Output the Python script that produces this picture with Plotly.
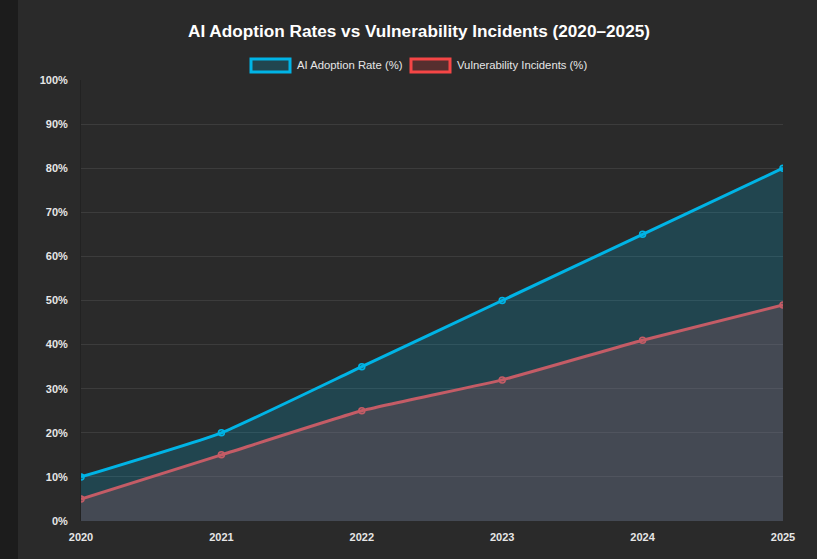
import plotly.graph_objects as go

# Chart data
years = [2020, 2021, 2022, 2023, 2024, 2025]
year_labels = ["2020", "2021", "2022", "2023", "2024", "2025"]
ai_adoption = [10, 20, 35, 50, 65, 80]
vuln_incidents = [5, 15, 25, 32, 41, 49]

blue = "rgb(0,180,230)"
red = "rgb(245,70,70)"

fig = go.Figure()

# red first so the blue fill sits on top (like chart.js dataset order)
fig.add_trace(go.Scatter(
    x=years, y=vuln_incidents, name="Vulnerability Incidents (%)",
    mode="lines+markers", fill="tozeroy", fillcolor="rgba(245,70,70,0.22)",
    line=dict(color=red, width=3, shape="spline", smoothing=0.4),
    marker=dict(size=6, color="rgba(245,70,70,0.3)", line=dict(color=red, width=1.5)),
))
fig.add_trace(go.Scatter(
    x=years, y=ai_adoption, name="AI Adoption Rate (%)",
    mode="lines+markers", fill="tozeroy", fillcolor="rgba(0,180,230,0.2)",
    line=dict(color=blue, width=3, shape="spline", smoothing=0.4),
    marker=dict(size=6, color="rgba(0,180,230,0.3)", line=dict(color=blue, width=1.5)),
))

W, H = 817, 559
ml, mr, mt, mb = 81, 34, 80, 38
pw, ph = W - ml - mr, H - mt - mb

def px(x):
    return (x - ml) / pw

def py(y):
    return (H - mb - y) / ph

shapes = [
    # dark strip on the left edge of the page
    dict(type="rect", xref="paper", yref="paper", x0=px(0), x1=px(18), y0=py(H), y1=py(0),
         fillcolor="#1c1c1c", line=dict(width=0), layer="below"),
    # legend boxes
    dict(type="rect", xref="paper", yref="paper", x0=px(251), x1=px(290), y0=py(72), y1=py(59),
         fillcolor="rgba(0,180,230,0.2)", line=dict(color=blue, width=3)),
    dict(type="rect", xref="paper", yref="paper", x0=px(411), x1=px(450), y0=py(72), y1=py(59),
         fillcolor="rgba(245,70,70,0.22)", line=dict(color=red, width=3)),
]

annotations = [
    dict(text="AI Adoption Rate (%)", xref="paper", yref="paper", x=px(295), y=py(65.5),
         xanchor="left", yanchor="middle", showarrow=False,
         font=dict(size=11.3, color="#e6e6e6")),
    dict(text="Vulnerability Incidents (%)", xref="paper", yref="paper", x=px(455), y=py(65.5),
         xanchor="left", yanchor="middle", showarrow=False,
         font=dict(size=11.3, color="#e6e6e6")),
]

fig.update_layout(
    width=W, height=H, autosize=False,
    margin=dict(l=ml, r=mr, t=mt, b=mb),
    paper_bgcolor="#2a2a2a", plot_bgcolor="#2a2a2a",
    font=dict(family="Liberation Sans, Arial, sans-serif", color="#e6e6e6"),
    title=dict(text="<b>AI Adoption Rates vs Vulnerability Incidents (2020–2025)</b>",
               xref="container", x=419 / W, xanchor="center",
               yref="container", y=1 - 31 / H, yanchor="middle",
               font=dict(size=17.2, color="#ffffff")),
    showlegend=False,
    shapes=shapes,
    annotations=annotations,
    xaxis=dict(range=[2020, 2025], tickvals=years, ticktext=year_labels,
               showgrid=False, zeroline=False, showline=False,
               tickfont=dict(size=11, color="#e6e6e6", weight="bold"),
               ticklabelstandoff=8),
    yaxis=dict(range=[0, 100], dtick=10, ticksuffix="%",
               gridcolor="#3c3c3c", gridwidth=1, zeroline=False,
               showline=True, linecolor="#222222", linewidth=1,
               tickfont=dict(size=11, color="#e6e6e6", weight="bold"),
               ticklabelstandoff=10),
)

fig.write_html("out.html", config={"displayModeBar": False},
               post_script="document.body.style.margin='0';")
